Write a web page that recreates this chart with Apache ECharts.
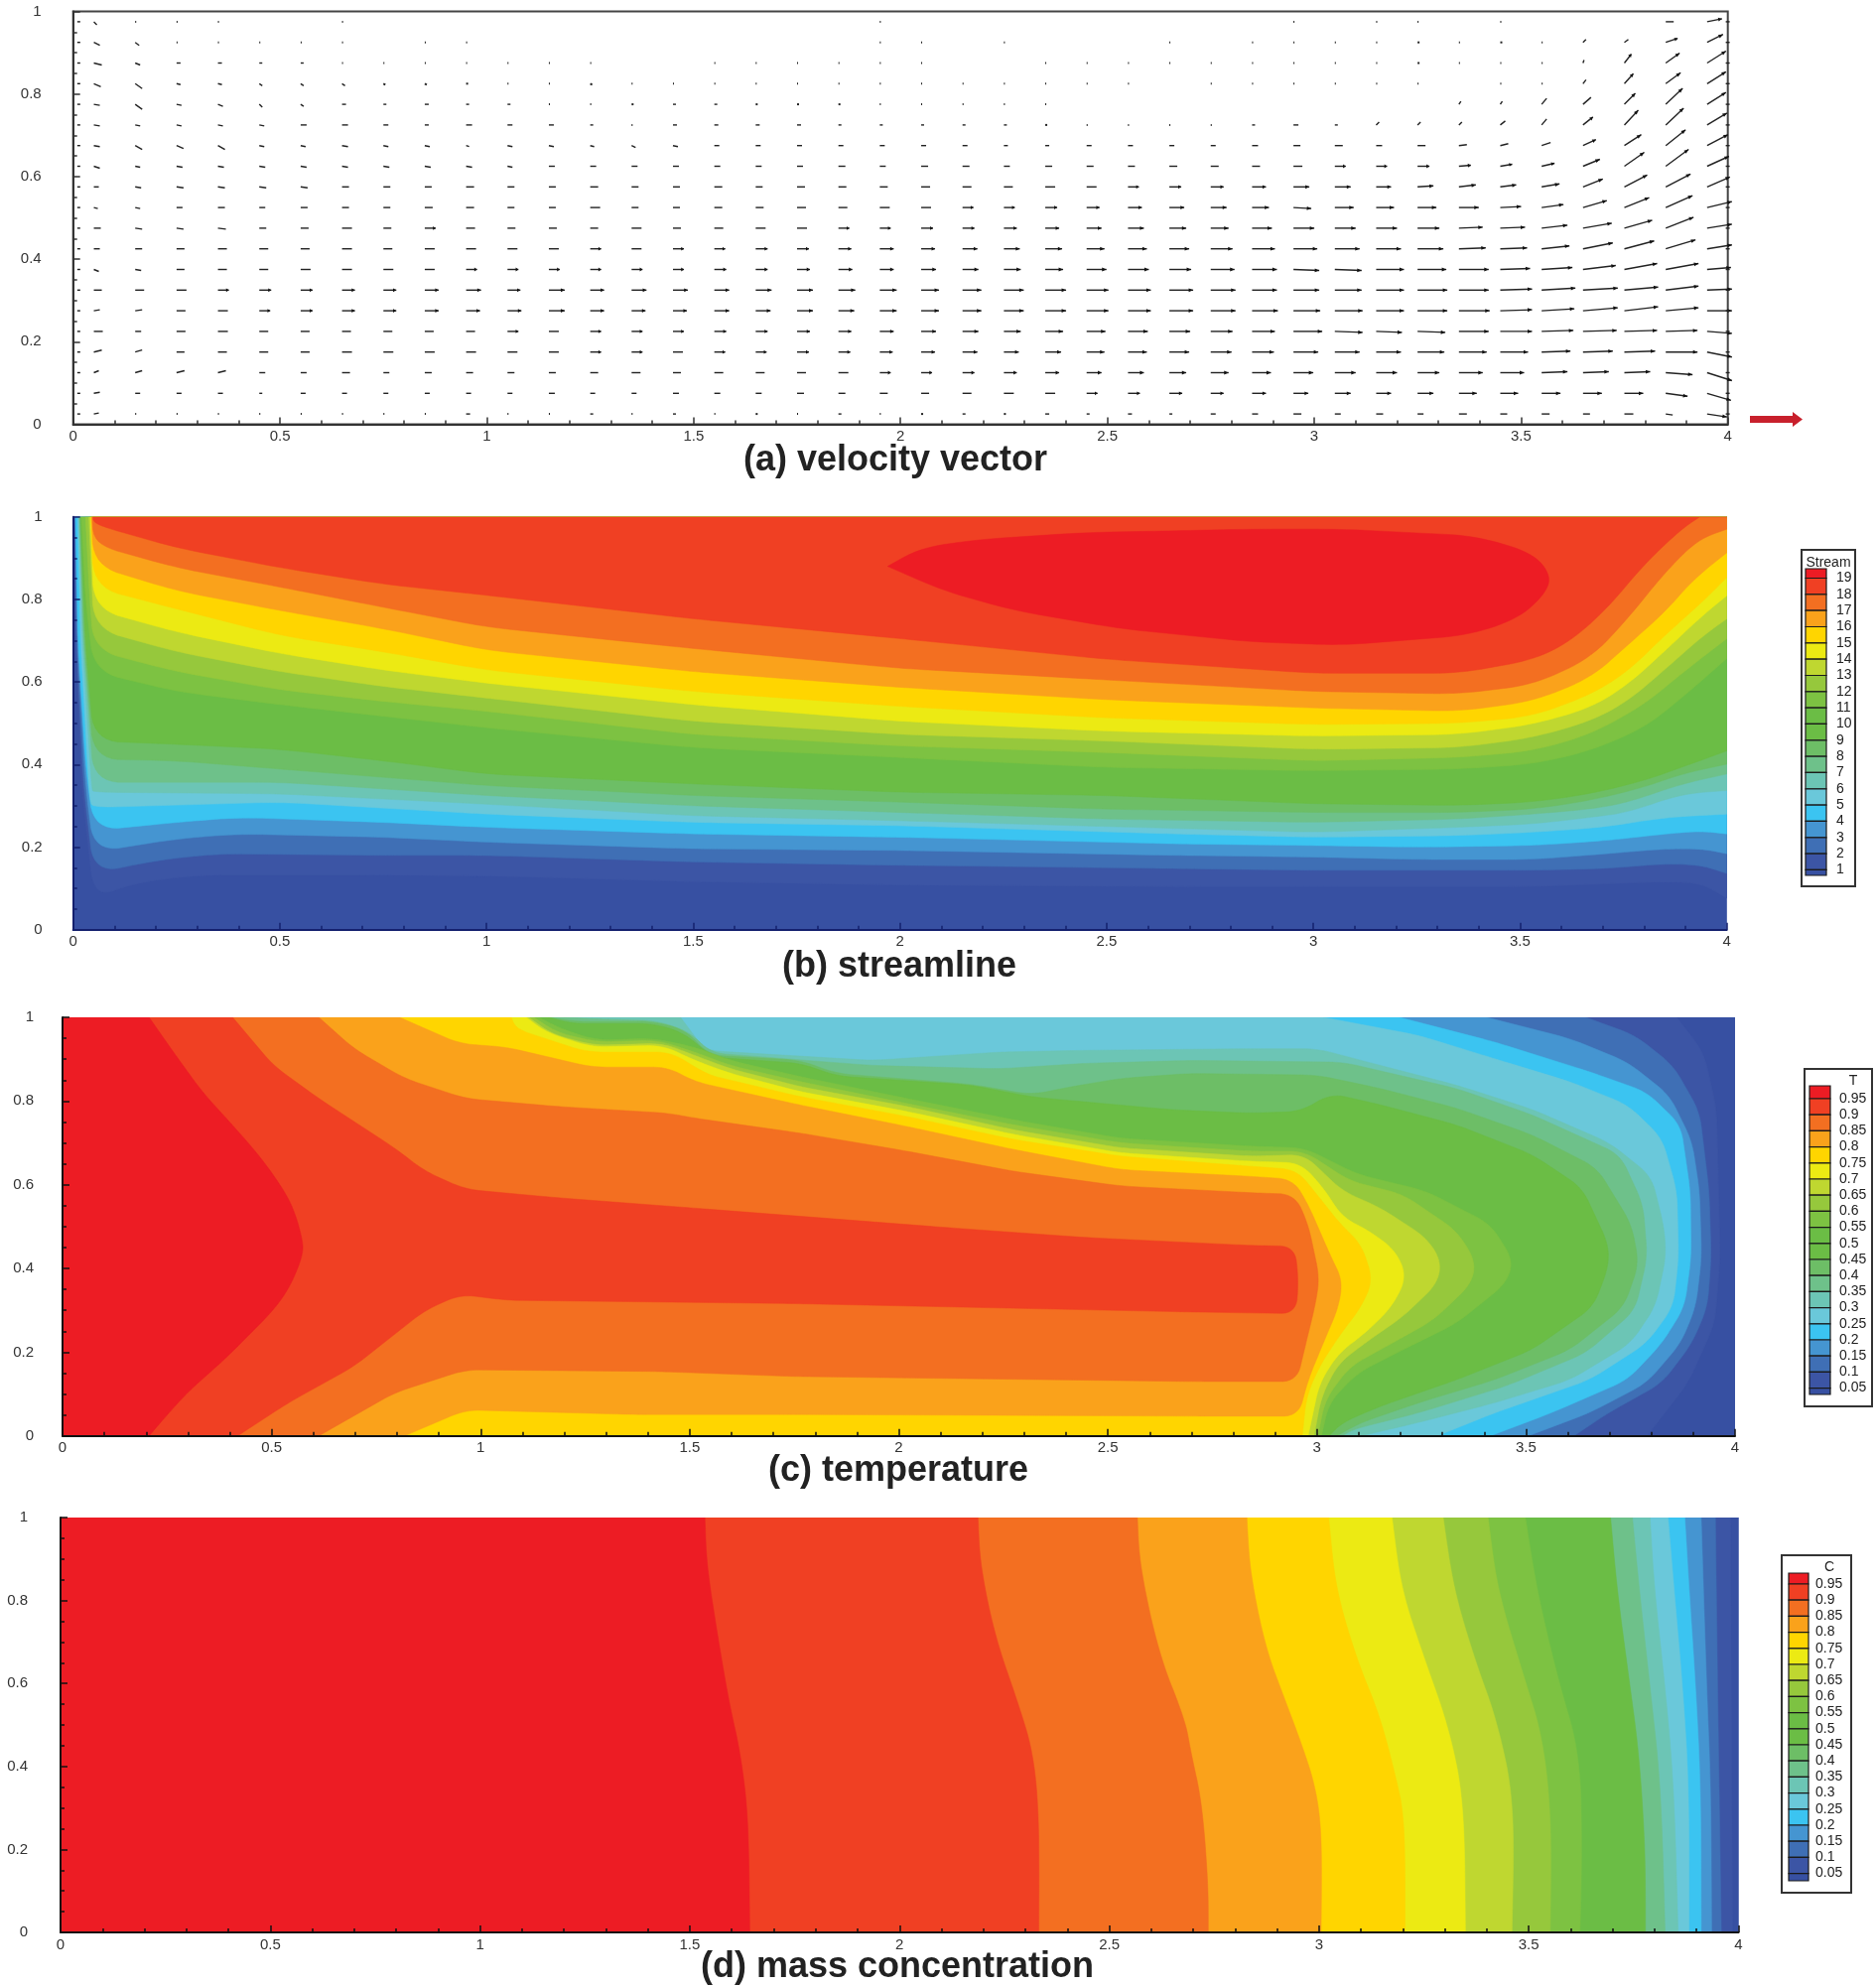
<!DOCTYPE html>
<html><head><meta charset="utf-8">
<style>html,body{margin:0;padding:0;background:#fff}#chart{width:1890px;height:2001px}</style>
<script src="https://cdn.jsdelivr.net/npm/echarts@6/dist/echarts.min.js"></script>
</head><body><div id="chart"></div>
<script>
const titles = ['(a) velocity vector','(b) streamline','(c) temperature','(d) mass concentration'];
const bandColors = ['#3750a2','#3c55a5','#3f6fb5','#4595d1','#3bc4f1','#6ac8da','#6cc5b5','#6ec18a','#6dbe66','#6bbd45','#7dc242','#96c83c','#bfd730','#ecea13','#ffd500','#faa21b','#f36f21','#f04023','#ed1c24'];
const concColors = ['#3750a2','#3c55a5','#3f6fb5','#4595d1','#3bc4f1','#6ac8da','#6cc5b5','#6ec18a','#6bbd45','#7dc242','#96c83c','#bfd730','#ecea13','#ffd500','#faa21b','#f36f21','#f04023','#ed1c24'];
const legendColors = ['#ed1c24','#f04023','#f36f21','#faa21b','#ffd500','#ecea13','#bfd730','#96c83c','#7dc242','#6bbd45','#6bbd45','#6dbe66','#6ec18a','#6cc5b5','#6ac8da','#3bc4f1','#4595d1','#3f6fb5','#3c55a5','#3750a2'];
const streamLabels = ['19','18','17','16','15','14','13','12','11','10','9','8','7','6','5','4','3','2','1'];
const fractionLabels = ['0.95','0.9','0.85','0.8','0.75','0.7','0.65','0.6','0.55','0.5','0.45','0.4','0.35','0.3','0.25','0.2','0.15','0.1','0.05'];
const wholeDomain = [[0,0],[4,0],[4,1],[0,1],[0,0]];

// velocity vectors: columns, rows, u and v components (1 unit = 1/60 of the reference arrow)
const vecX = [.01,.05,.15,.25,.35,.45,.55,.65,.75,.85,.95,1.05,1.15,1.25,1.35,1.45,1.55,1.65,1.75,1.85,1.95,2.05,2.15,2.25,2.35,2.45,2.55,2.65,2.75,2.85,2.95,3.05,3.15,3.25,3.35,3.45,3.55,3.65,3.75,3.85,3.95,3.995];
const vecY = [.975,.925,.875,.825,.775,.725,.675,.625,.575,.525,.475,.425,.375,.325,.275,.225,.175,.125,.075,.025];
const vecU = [
[3,3,1,1,1,0,0,1,0,0,0,0,0,0,0,0,0,0,0,0,1,0,0,0,0,0,0,0,0,0,1,0,1,1,0,1,0,0,0,8,15,4],
[3,6,4,1,1,1,1,1,0,1,1,0,0,0,0,0,0,0,0,0,1,1,0,1,0,0,0,1,0,1,1,1,1,2,1,2,1,3,4,12,16,4],
[3,8,5,4,4,3,3,1,1,1,1,1,1,1,0,0,1,1,1,1,1,1,0,0,1,1,1,1,1,1,1,1,1,2,1,1,1,1,7,14,19,4],
[3,7,7,4,4,3,3,3,2,2,2,1,1,2,1,1,1,1,1,1,1,1,1,1,1,1,1,0,1,1,1,1,1,1,0,1,1,3,9,15,19,4],
[3,6,7,5,5,3,3,4,3,4,3,3,1,1,2,3,3,2,2,2,1,1,1,1,1,0,0,0,0,0,0,0,0,0,2,2,5,8,11,17,19,4],
[3,6,5,5,5,5,6,6,5,4,6,5,5,3,1,4,4,4,4,3,3,3,3,3,2,1,1,1,1,3,5,3,3,3,3,5,5,10,14,18,20,4],
[3,6,7,7,7,5,5,6,5,5,3,5,5,4,4,5,5,5,5,5,5,5,5,4,4,5,5,5,5,6,7,8,6,8,8,8,9,13,17,20,21,4],
[3,6,5,6,6,6,6,6,6,6,6,5,6,6,6,6,6,6,6,7,6,7,7,6,7,7,7,8,8,8,9,11,11,12,12,12,13,17,20,23,22,4],
[3,5,6,7,7,7,7,7,7,7,8,7,7,8,7,7,8,7,8,8,8,9,9,9,10,10,11,12,13,14,16,16,15,16,17,16,18,20,23,25,23,4],
[3,4,5,6,7,6,7,7,7,8,8,7,7,10,7,7,8,8,9,9,10,10,11,11,12,13,14,15,16,17,18,19,18,19,20,21,22,24,25,27,25,4],
[3,7,7,7,8,7,8,10,8,11,9,8,8,8,10,8,9,10,10,11,11,12,12,13,14,15,16,17,18,20,21,21,21,22,24,25,26,29,28,28,25,4],
[3,6,7,8,9,9,9,10,9,10,10,10,10,11,10,11,11,12,12,13,14,14,15,16,17,18,19,20,22,23,24,25,25,26,27,27,28,30,30,30,25,4],
[3,5,6,8,9,9,10,10,10,10,11,11,11,11,11,11,12,12,13,14,14,15,16,17,18,20,21,22,24,25,26,27,28,29,30,30,31,33,33,33,24,4],
[3,8,9,10,11,12,12,13,13,14,15,13,16,14,15,15,15,16,16,17,17,18,19,20,21,22,23,24,25,25,26,27,28,30,30,32,34,35,34,33,25,4],
[3,6,7,9,10,11,12,13,13,14,14,14,16,14,14,14,15,15,16,16,17,18,19,20,21,22,23,24,25,26,27,28,28,30,31,32,33,35,34,33,25,4],
[3,9,6,9,10,9,9,9,9,9,9,11,10,11,11,11,12,12,13,13,14,15,16,17,18,19,20,21,22,23,29,28,26,28,30,32,32,34,33,32,25,4],
[3,8,7,8,9,9,9,10,10,10,10,10,10,11,11,10,11,11,12,12,13,14,15,15,16,18,19,20,21,22,25,25,25,27,28,28,29,30,31,32,25,4],
[3,5,7,8,8,6,6,8,6,7,7,7,7,8,9,8,9,9,9,10,11,11,12,13,14,15,16,17,18,19,20,21,21,22,24,24,26,26,26,27,25,4],
[3,6,5,5,5,3,5,5,5,5,5,5,6,5,5,6,6,6,7,7,8,8,9,10,10,11,12,13,13,14,15,16,15,16,18,18,19,19,19,22,24,4],
[3,5,1,1,1,1,1,1,1,1,4,1,1,3,1,3,1,2,1,3,1,2,3,2,4,3,4,3,5,6,8,6,7,6,8,7,8,7,9,7,20,4]
];
const vecV = [
[0,-3,0,0,0,0,0,0,0,0,0,0,0,0,0,0,0,0,0,0,0,0,0,0,0,0,0,0,0,0,0,0,0,0,0,0,0,0,0,0,3,0],
[0,-3,-3,0,0,0,0,0,0,0,0,0,0,0,0,0,0,0,0,0,0,0,0,0,0,0,0,0,0,0,0,0,0,0,0,0,0,3,3,4,8,0],
[0,-2,-2,0,0,0,0,0,0,0,0,0,0,0,0,0,0,0,0,0,0,0,0,0,0,0,0,0,0,0,0,0,0,0,0,0,0,3,9,10,12,0],
[0,-3,-5,-1,-1,-2,-2,-2,-1,-1,0,0,0,-1,0,0,0,0,0,0,0,0,0,0,0,0,0,0,0,0,0,0,0,0,0,0,0,4,10,11,12,0],
[0,-1,-5,-1,-2,-3,-2,0,0,0,0,0,0,0,0,0,0,0,0,0,0,0,0,0,0,0,0,0,0,0,0,0,0,0,3,3,6,7,11,16,12,0],
[0,-1,-1,-1,-1,-1,0,0,0,0,0,0,0,0,0,0,0,0,0,0,0,0,0,0,0,0,0,0,0,0,0,0,3,3,3,4,6,8,15,17,12,0],
[0,-1,-4,-3,-4,-1,-1,-1,-1,-1,-1,-1,-1,-1,-2,-1,0,0,0,0,0,0,0,0,0,0,0,0,0,0,0,0,0,0,1,2,3,6,11,16,11,0],
[0,-2,-1,-1,-1,-1,-1,-1,-1,-1,-1,-1,0,0,0,0,0,0,0,0,0,0,0,0,0,0,0,0,0,0,0,0,0,0,1,2,3,7,14,17,10,0],
[0,0,-1,-1,-1,-1,-1,0,0,0,0,0,0,0,0,0,0,0,0,0,0,0,0,0,0,0,0,0,0,0,0,0,0,1,2,2,3,8,12,13,10,0],
[0,-1,-1,0,0,0,0,0,0,0,0,0,0,0,0,0,0,0,0,0,0,0,0,0,0,0,0,0,0,0,-1,0,0,0,0,1,3,7,10,12,6,0],
[0,0,-1,-1,-1,0,0,0,0,0,0,0,0,0,0,0,0,0,0,0,0,0,0,0,0,0,0,0,0,0,0,0,0,0,1,1,3,5,8,11,4,0],
[0,0,0,0,0,0,0,0,0,0,0,0,0,0,0,0,0,0,0,0,0,0,0,0,0,0,0,0,0,0,0,0,0,0,1,1,3,6,8,9,4,0],
[0,-2,-1,0,0,0,0,0,0,0,0,0,0,0,0,0,0,0,0,0,0,0,0,0,0,0,0,0,0,0,-1,-1,0,0,0,1,2,4,6,6,2,0],
[0,0,0,0,0,0,0,0,0,0,0,0,0,0,0,0,0,0,0,0,0,0,0,0,0,0,0,0,0,0,0,0,0,0,0,1,2,2,3,4,1,0],
[0,1,1,0,0,0,0,0,0,0,0,0,0,0,0,0,0,0,0,0,0,0,0,0,0,0,0,0,0,0,0,0,0,0,0,1,2,3,4,3,0,0],
[0,0,0,0,0,0,0,0,0,0,0,0,0,0,0,0,0,0,0,0,0,0,0,0,0,0,0,0,0,0,0,-1,-1,-1,0,0,1,1,1,1,-2,0],
[0,2,2,0,0,0,0,0,0,0,0,0,0,0,0,0,0,0,0,0,0,0,0,0,0,0,0,0,0,0,0,0,0,0,0,0,1,1,1,0,-5,0],
[0,2,2,2,2,0,0,0,0,0,0,0,0,0,0,0,0,0,0,0,0,0,0,0,0,0,0,0,0,0,0,0,0,0,0,0,1,1,1,-2,-8,0],
[0,1,0,0,0,0,0,0,0,0,0,0,0,0,0,0,0,0,0,0,0,0,0,0,0,0,0,0,0,0,0,0,0,0,0,0,0,0,0,-3,-7,0],
[0,1,0,0,0,0,0,0,0,0,0,0,0,0,0,0,0,0,0,0,0,0,0,0,0,0,0,0,0,0,0,0,0,0,0,0,0,0,0,-1,-3,0]
];

// (b) streamline isolines, lowest level first
const s1=[[.003,1],[.006,.7],[.02,.35],[.05,.076],[.145,.112],[.3,.132],[.75,.132],[1,.13],[1.5,.116],[2,.108],[2.67,.104],[3,.104],[3.53,.104],[3.85,.116],[3.94,.112],[4,.076]];
const s2=[[.004,1],[.008,.7],[.025,.35],[.05,.136],[.2,.168],[.35,.184],[.75,.18],[1,.18],[1.5,.164],[2,.156],[2.67,.148],[3,.144],[3.53,.144],[3.71,.148],[3.85,.16],[3.94,.156],[4,.136]];
const s3=[[.005,1],[.01,.7],[.03,.35],[.05,.188],[.25,.22],[.4,.232],[.75,.224],[1,.212],[1.5,.196],[2,.192],[2.67,.18],[3,.176],[3.26,.17],[3.53,.17],[3.71,.184],[3.85,.196],[3.94,.196],[4,.184]];
const s4=[[.006,1],[.012,.7],[.03,.4],[.05,.24],[.25,.26],[.4,.272],[.75,.26],[1,.248],[1.5,.232],[2,.224],[2.67,.208],[3,.204],[3.26,.2],[3.53,.204],[3.71,.216],[3.85,.232],[3.94,.239],[4,.232]];
const s5=[[.011,1],[.018,.7],[.04,.31],[.05,.296],[.5,.309],[1,.28],[1.5,.26],[2,.252],[2.67,.232],[3,.224],[3.35,.228],[3.53,.236],[3.7,.248],[3.85,.272],[4,.28]];
const s6=[[.013,1],[.022,.7],[.045,.34],[.05,.333],[.5,.329],[1,.304],[1.5,.276],[2,.264],[2.5,.25],[3,.236],[3.35,.248],[3.53,.256],[3.67,.272],[3.76,.284],[3.89,.329],[4,.337]];
const s7=[[.015,1],[.025,.7],[.05,.357],[.5,.357],[1,.325],[1.5,.3],[2,.284],[2.5,.268],[3,.26],[3.35,.268],[3.53,.28],[3.67,.292],[3.76,.308],[3.89,.353],[4,.377]];
const s8=[[.016,1],[.027,.7],[.05,.413],[.25,.409],[.5,.389],[1,.349],[1.5,.325],[2,.309],[2.5,.292],[3,.284],[3.35,.284],[3.53,.292],[3.67,.313],[3.8,.345],[3.89,.377],[4,.401]];
const s9=[[.018,1],[.03,.7],[.05,.457],[.25,.449],[.5,.437],[.75,.409],[1,.377],[1.5,.353],[2,.333],[2.5,.325],[3,.305],[3.35,.301],[3.53,.309],[3.67,.329],[3.8,.361],[3.89,.393],[4,.433]];
const s10=[[.02,1],[.03,.8],[.05,.625],[.25,.577],[.5,.545],[.75,.517],[1,.489],[1.5,.441],[2,.417],[2.5,.393],[3,.385],[3.35,.389],[3.53,.401],[3.67,.433],[3.8,.489],[3.89,.56],[4,.657]];
const s11=[[.03,1],[.04,.8],[.05,.677],[.25,.625],[.5,.581],[.75,.553],[1,.529],[1.5,.473],[2,.445],[2.5,.429],[3,.409],[3.35,.417],[3.53,.433],[3.67,.473],[3.8,.545],[3.89,.62],[4,.705]];
const s12=[[.038,1],[.05,.729],[.25,.673],[.5,.625],[.75,.589],[1,.561],[1.5,.505],[2,.473],[2.5,.457],[3,.437],[3.35,.441],[3.53,.465],[3.67,.505],[3.76,.553],[3.85,.63],[3.94,.71],[4,.753]];
const s13=[[.042,1],[.05,.777],[.25,.721],[.5,.669],[.75,.629],[1,.597],[1.5,.545],[2,.505],[2.5,.481],[3,.469],[3.35,.473],[3.53,.497],[3.67,.537],[3.76,.593],[3.85,.675],[3.94,.76],[4,.809]];
const s14=[[.043,1],[.05,.829],[.25,.777],[.5,.713],[.75,.673],[1,.629],[1.5,.577],[2,.541],[2.5,.513],[3,.497],[3.35,.5],[3.53,.517],[3.67,.569],[3.76,.625],[3.85,.713],[3.94,.793],[4,.853]];
const s15=[[.044,1],[.05,.882],[.25,.821],[.5,.773],[.75,.729],[1,.677],[1.5,.625],[2,.587],[2.5,.557],[3,.537],[3.35,.529],[3.53,.553],[3.67,.609],[3.76,.689],[3.85,.769],[3.92,.849],[4,.913]];
const s16=[[.046,1],[.05,.933],[.25,.877],[.5,.83],[.75,.781],[1,.733],[1.5,.681],[2,.633],[2.5,.605],[3,.577],[3.35,.571],[3.53,.593],[3.67,.657],[3.76,.753],[3.85,.865],[3.93,.945],[4,.97]];
const s17=[[.048,1],[.05,.982],[.25,.925],[.5,.877],[.75,.837],[1,.81],[1.5,.753],[2,.705],[2.5,.655],[3,.621],[3.35,.621],[3.53,.653],[3.62,.697],[3.71,.777],[3.8,.885],[3.89,.97],[3.935,1]];
const s18=[[1.97,.88],[2.05,.925],[2.19,.945],[2.45,.962],[2.66,.966],[2.84,.97],[3.07,.97],[3.39,.954],[3.53,.913],[3.576,.857],[3.558,.81],[3.494,.753],[3.374,.713],[3.07,.689],[2.85,.697],[2.534,.729],[2.277,.773],[2.105,.821],[1.97,.88]];
const streamContours=[wholeDomain,s1,s2,s3,s4,s5,s6,s7,s8,s9,s10,s11,s12,s13,s14,s15,s16,s17,s18];

// (c) temperature isolines, lowest level first
const t05=[[3.861,1],[3.925,.917],[3.956,.783],[3.965,.427],[3.952,.269],[3.888,.126],[3.79,0]];
const t10=[[3.643,1],[3.761,.957],[3.852,.885],[3.915,.775],[3.938,.585],[3.943,.427],[3.934,.308],[3.897,.221],[3.825,.126],[3.697,.055],[3.615,0]];
const t15=[[3.406,1],[3.606,.949],[3.743,.893],[3.843,.814],[3.897,.704],[3.915,.585],[3.92,.427],[3.906,.308],[3.87,.221],[3.788,.126],[3.652,.055],[3.506,0]];
const t20=[[3.197,1],[3.425,.941],[3.652,.87],[3.788,.822],[3.87,.743],[3.893,.585],[3.895,.427],[3.879,.308],[3.825,.221],[3.743,.134],[3.561,.055],[3.415,0]];
const t25=[[3.015,1],[3.243,.957],[3.425,.901],[3.606,.846],[3.743,.791],[3.825,.712],[3.861,.585],[3.865,.427],[3.852,.308],[3.788,.221],[3.652,.134],[3.425,.055],[3.288,0]];
const t30=[[1.478,1],[1.53,.93],[1.55,.92],[1.936,.897],[2.241,.917],[2.445,.921],[2.84,.925],[3,.925],[3.152,.885],[3.334,.838],[3.515,.78],[3.7,.7],[3.8,.62],[3.83,.5],[3.835,.43],[3.81,.31],[3.75,.221],[3.606,.134],[3.425,.079],[3.243,.032],[3.106,0]];
const t35=[[1.2,1],[1.3,.995],[1.42,.992],[1.5,.965],[1.55,.915],[1.936,.885],[2.241,.877],[2.445,.89],[2.697,.897],[3.061,.893],[3.334,.83],[3.515,.767],[3.725,.672],[3.78,.553],[3.79,.427],[3.761,.3],[3.643,.198],[3.452,.119],[3.243,.055],[3.088,.016],[3.061,0]];
const t40=[[1.165,1],[1.225,.99],[1.41,.99],[1.49,.97],[1.545,.91],[1.766,.897],[1.85,.866],[2.173,.84],[2.317,.815],[2.411,.834],[2.53,.854],[2.697,.866],[3,.862],[3.152,.83],[3.334,.783],[3.515,.719],[3.67,.64],[3.752,.506],[3.77,.411],[3.734,.308],[3.606,.206],[3.425,.134],[3.243,.079],[3.106,.032],[3.047,0]];
const t45=[[1.163,1],[1.218,.985],[1.412,.985],[1.484,.964],[1.554,.905],[1.766,.89],[1.851,.86],[2.173,.838],[2.317,.81],[2.445,.798],[2.657,.779],[2.84,.771],[2.961,.775],[3.034,.818],[3.152,.791],[3.334,.743],[3.515,.672],[3.634,.593],[3.697,.458],[3.697,.403],[3.661,.308],[3.515,.206],[3.334,.134],[3.152,.071],[3.061,.032],[3.029,0]];
const t55=[[1.139,1],[1.194,.972],[1.278,.945],[1.412,.95],[1.512,.929],[1.597,.897],[1.766,.858],[2.02,.806],[2.275,.755],[2.53,.711],[2.84,.692],[2.97,.688],[3.097,.625],[3.261,.585],[3.415,.506],[3.47,.419],[3.452,.364],[3.334,.269],[3.206,.206],[3.097,.15],[3.029,.079],[3.011,0]];
const t60=[[1.127,1],[1.182,.964],[1.278,.941],[1.424,.945],[1.512,.917],[1.597,.885],[1.766,.846],[2.02,.794],[2.275,.743],[2.53,.7],[2.84,.68],[2.97,.68],[3.079,.609],[3.206,.577],[3.334,.49],[3.379,.419],[3.37,.364],[3.279,.277],[3.179,.221],[3.079,.166],[3.02,.087],[3.002,0]];
const t65=[[1.115,1],[1.17,.96],[1.272,.933],[1.436,.938],[1.512,.909],[1.597,.877],[1.766,.834],[2.02,.787],[2.275,.731],[2.53,.688],[2.84,.668],[2.97,.672],[3.061,.585],[3.152,.545],[3.261,.474],[3.297,.419],[3.288,.364],[3.206,.285],[3.125,.229],[3.052,.174],[3.011,.095],[2.993,0]];
const t70=[[1.109,1],[1.157,.964],[1.266,.929],[1.436,.933],[1.512,.897],[1.597,.866],[1.766,.822],[2.02,.775],[2.275,.72],[2.53,.676],[2.84,.656],[2.961,.652],[3.015,.593],[3.061,.522],[3.125,.49],[3.188,.443],[3.215,.379],[3.179,.308],[3.115,.245],[3.052,.198],[3.006,.126],[2.979,0]];
const t75=[[1.073,1],[1.085,.972],[1.254,.917],[1.454,.917],[1.545,.862],[1.597,.85],[1.766,.81],[2.02,.763],[2.275,.708],[2.53,.668],[2.84,.644],[2.952,.636],[3.006,.569],[3.056,.506],[3.106,.458],[3.134,.372],[3.106,.308],[3.052,.237],[3.006,.166],[2.975,.095],[2.965,0]];
const t80=[[.806,1],[.95,.937],[1.06,.929],[1.266,.881],[1.448,.881],[1.512,.846],[1.766,.79],[2.02,.739],[2.275,.684],[2.53,.636],[2.84,.62],[2.943,.613],[2.979,.553],[3.034,.427],[3.061,.372],[3.052,.308],[3.015,.221],[2.979,.134],[2.956,.047],[2.697,.047],[1.748,.051],[1.363,.051],[.964,.062],[.818,0]];
const t85=[[.613,1],[.697,.925],[.818,.854],[.964,.806],[1.182,.787],[1.448,.771],[1.512,.759],[1.766,.723],[2.02,.68],[2.275,.632],[2.53,.597],[2.84,.581],[2.947,.577],[2.979,.506],[3.006,.379],[2.997,.317],[2.97,.206],[2.952,.13],[2.697,.13],[1.748,.142],[1.42,.154],[.964,.158],[.794,.103],[.613,0]];
const t90=[[.407,1],[.504,.885],[.613,.806],[.794,.688],[.867,.632],[.964,.589],[1.182,.569],[1.512,.544],[2.11,.498],[2.445,.474],[2.84,.455],[2.947,.453],[2.956,.371],[2.95,.292],[2.697,.296],[1.748,.316],[1.06,.324],[.952,.338],[.867,.3],[.697,.166],[.54,.079],[.419,0]];
const t95=[[.207,1],[.27,.91],[.334,.822],[.395,.755],[.455,.688],[.5,.63],[.54,.569],[.56,.52],[.574,.466],[.575,.44],[.564,.403],[.54,.35],[.504,.3],[.45,.245],[.395,.19],[.345,.145],[.298,.103],[.25,.05],[.207,0]];
const tempContours=[wholeDomain,t05,t10,t15,t20,t25,t30,t35,t40,t45,t55,t60,t65,t70,t75,t80,t85,t90,t95];

// (d) mass concentration isolines, lowest level first
const c05=[[3.981,1],[3.983,.6],[3.986,0]];
const c10=[[3.945,1],[3.95,.6],[3.959,0]];
const c15=[[3.911,1],[3.924,.59],[3.934,.35],[3.936,0]];
const c20=[[3.872,1],[3.882,.83],[3.898,.59],[3.91,.35],[3.911,0]];
const c25=[[3.832,1],[3.846,.83],[3.867,.59],[3.882,.35],[3.882,0]];
const c30=[[3.789,1],[3.799,.831],[3.825,.592],[3.846,.352],[3.856,0]];
const c35=[[3.747,1],[3.763,.831],[3.789,.592],[3.815,.352],[3.825,0]];
const c40=[[3.695,1],[3.71,.831],[3.736,.632],[3.763,.432],[3.778,.193],[3.778,0]];
const c45=[[3.492,1],[3.518,.831],[3.57,.608],[3.622,.432],[3.627,.193],[3.622,0]];
const c50=[[3.403,1],[3.424,.831],[3.486,.624],[3.533,.472],[3.554,.273],[3.551,0]];
const c55=[[3.296,1],[3.32,.831],[3.372,.655],[3.424,.512],[3.466,.313],[3.46,0]];
const c60=[[3.174,1],[3.195,.831],[3.247,.671],[3.309,.496],[3.346,.313],[3.349,0]];
const c65=[[3.023,1],[3.039,.831],[3.091,.655],[3.143,.528],[3.179,.392],[3.205,.273],[3.205,0]];
const c70=[[2.828,1],[2.835,.871],[2.872,.687],[2.919,.56],[2.955,.464],[2.992,.352],[3.007,.233],[3.005,0]];
const c75=[[2.567,1],[2.572,.887],[2.618,.671],[2.681,.512],[2.695,.432],[2.721,.313],[2.736,.113],[2.736,0]];
const c80=[[2.187,1],[2.192,.887],[2.228,.711],[2.283,.552],[2.319,.432],[2.333,.273],[2.332,0]];
const c85=[[1.536,1],[1.54,.887],[1.567,.711],[1.594,.552],[1.621,.432],[1.64,.273],[1.643,0]];
const concContours=[wholeDomain,c05,c10,c15,c20,c25,c30,c35,c40,c45,c50,c55,c60,c65,c70,c75,c80,c85];

function roundCorners(pts,caps){
  let cur=pts;
  caps.forEach(function(cap){
    const out=[cur[0]];
    for(let i=1;i<cur.length-1;i++){
      const p=cur[i],a=cur[i-1],b=cur[i+1];
      const la=Math.hypot(p[0]-a[0],p[1]-a[1])||1,lb=Math.hypot(p[0]-b[0],p[1]-b[1])||1;
      const ca=Math.min(cap,la*.25)/la,cb=Math.min(cap,lb*.25)/lb;
      out.push([p[0]+(a[0]-p[0])*ca,p[1]+(a[1]-p[1])*ca]);
      out.push([p[0]+(b[0]-p[0])*cb,p[1]+(b[1]-p[1])*cb]);
    }
    out.push(cur[cur.length-1]);
    cur=out;
  });
  return cur;
}
function contourSeries(gridIndex,contours,colors,closure,caps){
  return {type:'custom',xAxisIndex:gridIndex,yAxisIndex:gridIndex,silent:true,animation:false,clip:true,z:2,
    data:contours.map((c,i)=>[i]),encode:{x:-1,y:-1},
    renderItem:function(params,api){
      const i=params.dataIndex,c=contours[i];
      let px=c.map(p=>api.coord(p));
      if(i>0) px=roundCorners(px,caps);
      const first=c[0],last=c[c.length-1];
      if(first[0]!==last[0]||first[1]!==last[1]) closure.forEach(p=>px.push(api.coord(p)));
      return {type:'polygon',shape:{points:px},style:{fill:colors[i],stroke:colors[i],lineWidth:.5}};
    }};
}
const vectorData=[];
vecY.forEach((y,r)=>vecX.forEach((x,k)=>{ if(vecU[r][k]||vecV[r][k]) vectorData.push([x,y,vecU[r][k],vecV[r][k]]); }));
const vectorSeries={type:'custom',xAxisIndex:0,yAxisIndex:0,silent:true,animation:false,clip:false,z:3,
  data:vectorData,encode:{x:0,y:1},
  renderItem:function(params,api){
    const p=api.coord([api.value(0),api.value(1)]),u=api.value(2),v=api.value(3);
    const len=Math.hypot(u,v)||1,tip=[p[0]+u,p[1]-v],ux=u/len,uy=-v/len;
    const kids=[{type:'line',shape:{x1:p[0],y1:p[1],x2:tip[0],y2:tip[1]},style:{stroke:'#222',lineWidth:len<3?2:1.4}}];
    if(len>=11){
      const h=Math.min(4.5,len*.25),w=1.9,b=[tip[0]-ux*h,tip[1]-uy*h];
      kids.push({type:'polygon',shape:{points:[tip,[b[0]-uy*w,b[1]+ux*w],[b[0]+uy*w,b[1]-ux*w]]},style:{fill:'#111'}});
    }
    return {type:'group',children:kids};
  }};

const gridBoxes=[
  {left:73.7,top:11.5,width:1667,height:416},
  {left:73.7,top:520.7,width:1666,height:416},
  {left:63,top:1025,width:1685,height:421.7},
  {left:61,top:1529,width:1690.5,height:418}
];
const axisColors=['#333','#14206e','#111','#111'];
const yLabelMargins=[32,31,29,33];
const titleCenters=[[902,462],[906,972],[905,1480],[904,1980]];
const labelFont={fontFamily:'Liberation Sans',fontSize:15,color:'#333'};
function xAxisFor(i){return {type:'value',gridIndex:i,min:0,max:4,interval:.5,z:10,
  axisLine:{show:true,onZero:false,lineStyle:{color:axisColors[i],width:2}},
  axisTick:{show:true,inside:true,length:7,lineStyle:{color:axisColors[i],width:1.5}},
  minorTick:{show:true,splitNumber:5,length:4,lineStyle:{color:axisColors[i],width:1.5}},
  splitLine:{show:false},axisLabel:Object.assign({margin:5,showMinLabel:true,showMaxLabel:true,hideOverlap:false},labelFont)};}
function yAxisFor(i){return {type:'value',gridIndex:i,min:0,max:1,interval:.2,z:10,
  axisLine:{show:true,onZero:false,lineStyle:{color:axisColors[i],width:2}},
  axisTick:{show:true,inside:true,length:7,lineStyle:{color:axisColors[i],width:1.5}},
  minorTick:{show:true,splitNumber:4,length:4,lineStyle:{color:axisColors[i],width:1.5}},
  splitLine:{show:false},axisLabel:Object.assign({margin:yLabelMargins[i],showMinLabel:true,showMaxLabel:true,hideOverlap:false},labelFont)};}

function legendBox(box,bar,title,titlePos,labels,labelX,firstY,step,font){
  const kids=[{type:'rect',shape:{x:box[0],y:box[1],width:box[2]-box[0],height:box[3]-box[1]},style:{fill:'#fff',stroke:'#333',lineWidth:2}}];
  const ys=[bar[1]].concat(labels.map((_,i)=>firstY+i*step),[bar[3]]);
  legendColors.forEach((col,i)=>kids.push({type:'rect',shape:{x:bar[0],y:ys[i],width:bar[2]-bar[0],height:ys[i+1]-ys[i]},style:{fill:col,stroke:'#1a1a1a',lineWidth:1.2}}));
  labels.forEach((t,i)=>kids.push({type:'text',x:labelX,y:firstY+i*step,style:{text:t,fontFamily:'Liberation Sans',fontSize:font,fill:'#222',textAlign:'left',textVerticalAlign:'middle'}}));
  kids.push({type:'text',x:titlePos[0],y:titlePos[1],style:{text:title,fontFamily:'Liberation Sans',fontSize:font,fill:'#222',textAlign:'center',textVerticalAlign:'middle'}});
  return kids;
}
const graphics=[].concat(
  legendBox([1815,554,1869,893],[1819,573,1840,882],'Stream',[1842,567],streamLabels,1850,582.5,16.33,14),
  legendBox([1818,1077,1886,1417],[1823,1094,1844,1405],'T',[1867,1089],fractionLabels,1853,1107,16.2,14),
  legendBox([1795,1567,1865,1907],[1802,1585,1822,1895],'C',[1843,1579],fractionLabels,1829,1596,16.2,14),
  [{type:'polygon',shape:{points:[[1763,419],[1806,419],[1806,415],[1816,422.5],[1806,430],[1806,426],[1763,426]]},style:{fill:'#c8202c'}}]
);

const chart=echarts.init(document.getElementById('chart'),null,{renderer:'canvas'});
chart.setOption({
  animation:false,backgroundColor:'#fff',tooltip:{show:false},
  title:titles.map((t,i)=>({text:t,left:titleCenters[i][0],top:titleCenters[i][1]-18,textAlign:'center',padding:0,
    textStyle:{fontFamily:'Liberation Sans',fontWeight:'bold',fontSize:36,color:'#222',lineHeight:40}})),
  grid:gridBoxes.map((g,i)=>Object.assign({containLabel:false,show:i===0,borderColor:'#444',borderWidth:2,backgroundColor:'transparent'},g)),
  xAxis:[0,1,2,3].map(xAxisFor),
  yAxis:[0,1,2,3].map(yAxisFor),
  series:[vectorSeries,
    contourSeries(1,streamContours,bandColors,[[4,1]],[14,7,3]),
    contourSeries(2,tempContours,bandColors,[[0,0],[0,1]],[8,4,2]),
    contourSeries(3,concContours,concColors,[[0,0],[0,1]],[45,22,10,5])
  ],
  graphic:{elements:graphics}
});
</script></body></html>
